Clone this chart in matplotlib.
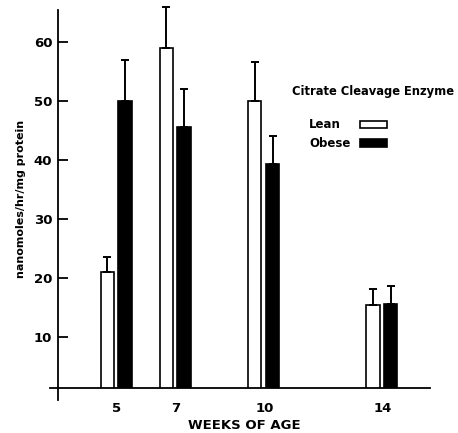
import numpy as np
import matplotlib
matplotlib.use("Agg")
import matplotlib.pyplot as plt
from matplotlib.patches import Rectangle

# ── Data ──────────────────────────────────────────────────────────────────────
weeks      = [5, 7, 10, 14]
lean       = [21.0, 59.0, 50.0, 15.5]
lean_err   = [2.5, 6.9, 6.5, 2.6]
obese      = [50.0, 45.6, 39.3, 15.6]
obese_err  = [7.0, 6.4, 4.7, 3.0]
yticks     = [10, 20, 30, 40, 50, 60]

plt.rcParams["font.family"] = ["DejaVu Sans"]
plt.rcParams["font.weight"] = "bold"

fig = plt.figure(figsize=(4.58, 4.33), dpi=100)
ax = fig.add_axes([0.1266, 0.104, 0.812, 0.873])

w = np.array(weeks, dtype=float)
bw = 0.45
ax.bar(w - 0.33, lean, width=bw, color="white", edgecolor="black", linewidth=1.2)
ax.bar(w + 0.27, obese, width=bw, color="black", edgecolor="black", linewidth=1.2)

# upward-only error bars
for xs, vals, errs in [(w - 0.33, lean, lean_err), (w + 0.27, obese, obese_err)]:
    eb = ax.errorbar(xs, vals, yerr=[np.zeros(len(vals)), errs], fmt="none",
                     ecolor="black", elinewidth=1.4, capsize=3, capthick=1.4)
    for art in eb.lines[1] + eb.lines[2]:
        art.set_clip_on(False)

ax.set_xlim(3.0, 15.6)
ax.set_ylim(1.36, 65.4)

ax.spines["top"].set_visible(False)
ax.spines["right"].set_visible(False)
ax.spines["left"].set_linewidth(1.3)
ax.spines["bottom"].set_linewidth(1.3)
ax.spines["left"].set_bounds(-0.7, 65.4)
ax.spines["bottom"].set_bounds(2.73, 15.6)

ax.set_yticks(yticks)
ax.set_yticklabels([str(t) for t in yticks], fontsize=9.5, fontweight="bold")
ax.tick_params(axis="y", direction="in", length=7, width=1.3, pad=4)
ax.set_xticks(weeks)
ax.set_xticklabels([str(x) for x in weeks], fontsize=9.5, fontweight="bold")
ax.tick_params(axis="x", length=0, pad=10)

ax.set_ylabel("nanomoles/hr/mg protein", fontsize=8, fontweight="bold", labelpad=6)
ax.set_xlabel("WEEKS OF AGE", fontsize=9.5, fontweight="bold", labelpad=3)

# hand-drawn style legend
ax.text(0.629, 0.783, "Citrate Cleavage Enzyme", transform=ax.transAxes,
        fontsize=8.3, fontweight="bold", ha="left", va="center")
ax.text(0.675, 0.697, "Lean", transform=ax.transAxes,
        fontsize=8.5, fontweight="bold", ha="left", va="center")
ax.text(0.675, 0.647, "Obese", transform=ax.transAxes,
        fontsize=8.5, fontweight="bold", ha="left", va="center")
ax.add_patch(Rectangle((0.812, 0.688), 0.073, 0.018, transform=ax.transAxes,
                       facecolor="white", edgecolor="black", linewidth=1.2))
ax.add_patch(Rectangle((0.812, 0.638), 0.073, 0.021, transform=ax.transAxes,
                       facecolor="black", edgecolor="black", linewidth=1.2))

fig.savefig("out.png", dpi=100)
